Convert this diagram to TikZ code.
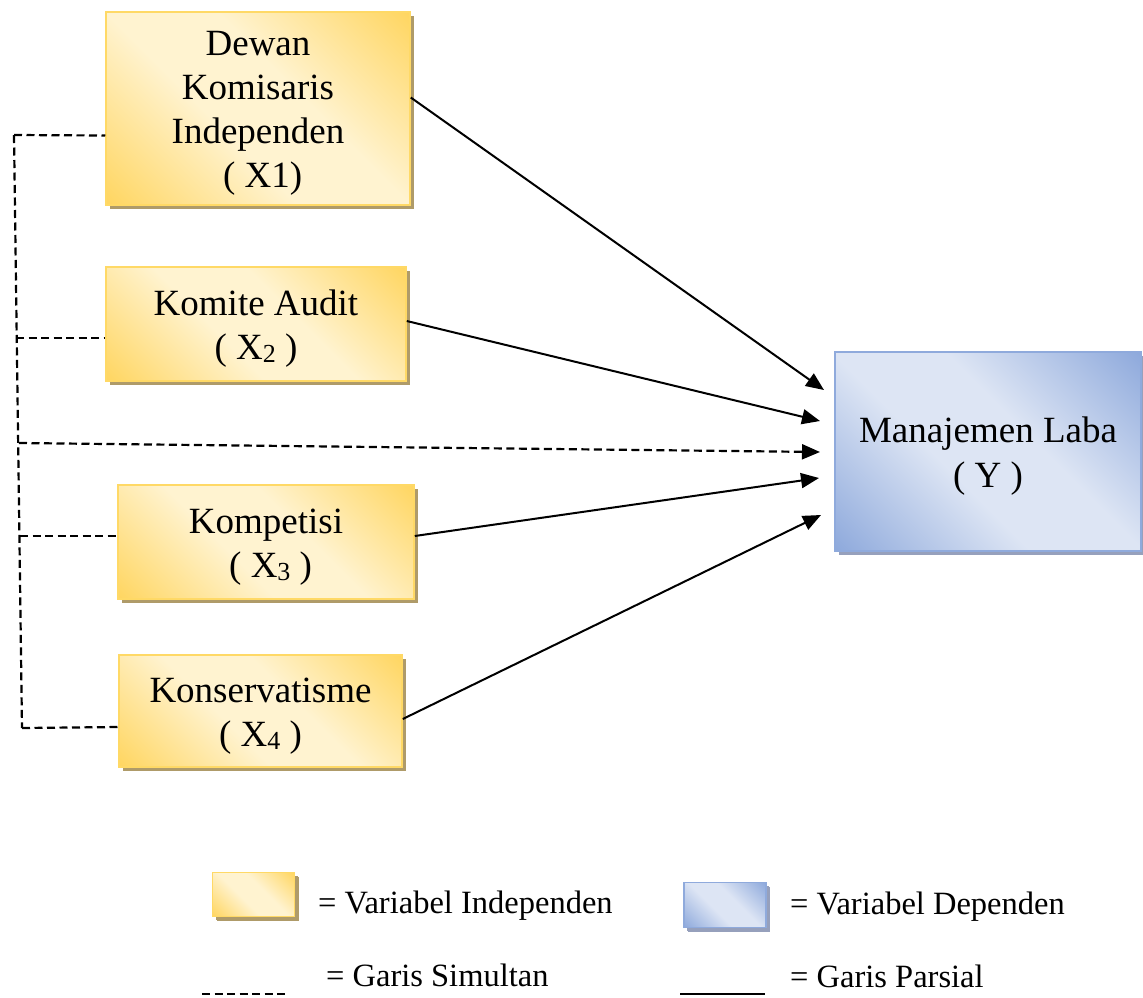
\documentclass[tikz,border=0pt]{standalone}
\usepackage{fontspec}
\setmainfont{Liberation Serif}
\usetikzlibrary{arrows.meta,shadows}
\definecolor{gold}{RGB}{255,214,98}
\definecolor{cream}{RGB}{255,243,208}
\definecolor{goldline}{RGB}{255,217,102}
\definecolor{bdark}{RGB}{143,170,220}
\definecolor{blight}{RGB}{221,229,244}
\definecolor{tanshadow}{RGB}{175,155,105}
\definecolor{bshadow}{RGB}{150,160,188}
\pgfdeclarehorizontalshading{goldshade}{100bp}{color(0bp)=(gold); color(15bp)=(gold); color(42bp)=(cream); color(58bp)=(cream); color(85bp)=(gold); color(100bp)=(gold)}
\pgfdeclarehorizontalshading{blueshade}{100bp}{color(0bp)=(bdark); color(15bp)=(bdark); color(42bp)=(blight); color(58bp)=(blight); color(85bp)=(bdark); color(100bp)=(bdark)}
\newcommand\topstrut{\rule{0pt}{34pt}}
\newcommand\subs[1]{\raisebox{-3pt}{\fontsize{26}{26}\selectfont #1}}
\tikzset{
  ybox/.style={draw=goldline, line width=1.5pt, shading=goldshade, shading angle=45,
    drop shadow={shadow xshift=4pt, shadow yshift=-4pt, fill=tanshadow, opacity=1},
    align=center, font=\fontsize{37}{44}\selectfont, inner sep=0pt},
  bbox/.style={draw=bdark, line width=1.5pt, shading=blueshade, shading angle=45,
    drop shadow={shadow xshift=4pt, shadow yshift=-4pt, fill=bshadow, opacity=1},
    align=center, font=\fontsize{37}{45}\selectfont, inner sep=0pt},
  parrow/.style={line width=2pt, -{Triangle[length=18pt,width=15pt]}},
  sline/.style={line width=2.2pt, dash pattern=on 8pt off 4.5pt},
  sarrow/.style={line width=2.2pt, dash pattern=on 8pt off 4.5pt, -{Triangle[length=18pt,width=15pt]}},
  legtext/.style={anchor=base west, inner sep=0pt, font=\fontsize{32.5}{38}\selectfont},
}
\begin{document}
\begin{tikzpicture}[x=1pt,y=-1pt]
\useasboundingbox (0,0) rectangle (1143,997);
% boxes
\node[ybox, minimum width=304pt, minimum height=193pt] (x1) at (258,108.5) {\topstrut Dewan\\Komisaris\\Independen\\\ ( X1)};
\node[ybox, minimum width=300pt, minimum height=114pt] (x2) at (256,324) {\topstrut Komite Audit\\( X\subs{2} )};
\node[ybox, minimum width=296pt, minimum height=114pt] (x3) at (266,542) {\topstrut Kompetisi\\\ ( X\subs{3} )};
\node[ybox, minimum width=283pt, minimum height=112pt] (x4) at (260.5,711) {\topstrut Konservatisme\\( X\subs{4} )};
\node[bbox, minimum width=306pt, minimum height=199pt] (y) at (988,451.5) {\topstrut Manajemen Laba\\( Y )};
% arrow targets
\coordinate (t1) at (824,390);
\coordinate (t2) at (820,421);
\coordinate (t3) at (820,452);
\coordinate (t4) at (819,478);
\coordinate (t5) at (821,515);
\draw[parrow] ([yshift=11pt]x1.east) -- (t1);
\draw[parrow] ([yshift=3pt]x2.east) -- (t2);
\draw[parrow] ([yshift=6pt]x3.east) -- (t4);
\draw[parrow] ([yshift=-8pt]x4.east) -- (t5);
% simultaneous dashed lines
\coordinate (d1) at (14,135);
\coordinate (d2) at (16,338);
\coordinate (d0) at (19,443);
\coordinate (d3) at (20,536);
\coordinate (d4) at (22,728);
\draw[sline] (d1) -- (d4);
\draw[sline] (d1) -- ([yshift=-27pt]x1.west);
\draw[sline] (d2) -- ([yshift=-14pt]x2.west);
\draw[sline] (d3) -- ([yshift=6pt]x3.west);
\draw[sline] (d4) -- ([yshift=-16pt]x4.west);
\draw[sarrow] (d0) -- (t3);
% legend
\node[ybox, minimum width=82pt, minimum height=44pt, drop shadow={shadow xshift=3pt, shadow yshift=-3pt, fill=tanshadow, opacity=1}] (ly) at (253.5,894.5) {};
\node[bbox, minimum width=82pt, minimum height=45pt, drop shadow={shadow xshift=3pt, shadow yshift=-3pt, fill=bshadow, opacity=1}] (lb) at (725,905) {};
\node[legtext] (lyt) at (318,913) {= Variabel Independen};
\node[legtext] (lbt) at (790,914) {= Variabel Dependen};
\node[legtext] (lst) at (326,986) {= Garis Simultan};
\node[legtext] (lpt) at (790,987) {= Garis Parsial};
\coordinate (ls1) at (202,994);
\coordinate (ls2) at (289,994);
\coordinate (lp1) at (680,994);
\coordinate (lp2) at (765,994);
\draw[sline] (ls1) -- (ls2);
\draw[line width=2pt] (lp1) -- (lp2);
\end{tikzpicture}
\end{document}
